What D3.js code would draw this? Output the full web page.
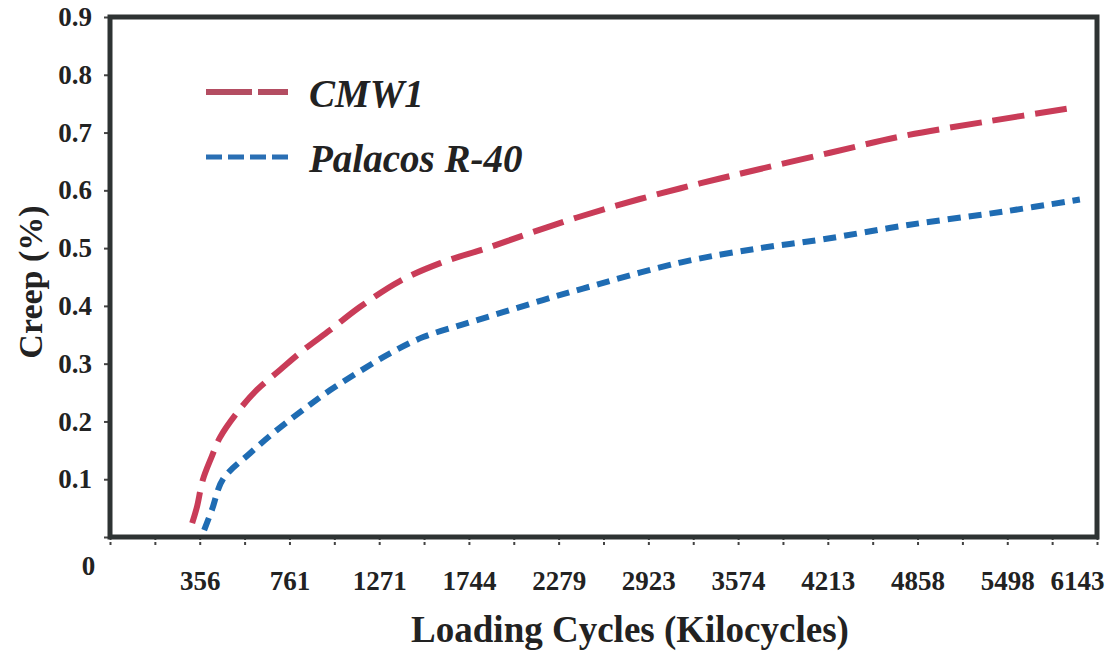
<!DOCTYPE html>
<html>
<head>
<meta charset="utf-8">
<script src="https://cdn.jsdelivr.net/npm/d3@7"></script>
<style>
  body { margin: 0; background: #fff; }
  text { font-family: "Liberation Serif", "Times New Roman", serif; font-weight: bold; fill: #222; }
</style>
</head>
<body>
<svg id="chart" width="1111" height="651"></svg>
<script>
// x axis tick labels (kilocycles), shown evenly spaced like the original
var xTicks = [0, 356, 761, 1271, 1744, 2279, 2923, 3574, 4213, 4858, 5498, 6143]
var yTicks = [0, 0.1, 0.2, 0.3, 0.4, 0.5, 0.6, 0.7, 0.8, 0.9]

// CMW1 creep (%) vs loading cycles (kilocycles)
var cmwCycles = [326, 345, 370, 411, 447, 524, 615, 718, 838, 991, 1161, 1380, 1593, 1851, 2108, 2411, 2862, 3297, 3731, 4229, 4732, 5376, 5950]
var cmwCreep  = [0.024, 0.052, 0.099, 0.14, 0.172, 0.215, 0.255, 0.289, 0.323, 0.358, 0.398, 0.443, 0.474, 0.50, 0.526, 0.553, 0.585, 0.612, 0.637, 0.665, 0.693, 0.72, 0.742]

// Palacos R-40 creep (%)
var palCycles = [376, 411, 461, 583, 704, 838, 991, 1146, 1328, 1503, 1713, 1947, 2185, 2453, 3154, 3731, 4171, 4790, 5466, 6020]
var palCreep  = [0.012, 0.047, 0.1, 0.145, 0.185, 0.22, 0.254, 0.284, 0.318, 0.346, 0.368, 0.389, 0.41, 0.43, 0.475, 0.50, 0.515, 0.54, 0.563, 0.584]

var seriesNames = ["CMW1", "Palacos R-40"]

var svg = d3.select("#chart"),
    plotLeft = 110, plotRight = 1097, plotTop = 17, plotBottom = 537

// labels are evenly spaced, so piecewise linear scale over the tick values
var step = (plotRight - plotLeft) / (xTicks.length - 1)
var x = d3.scaleLinear()
    .domain(xTicks)
    .range(xTicks.map(function(d, i) { return plotLeft + i * step }))
var y = d3.scaleLinear().domain([0, 0.9]).range([plotBottom, plotTop])

// minor ticks half way between the labelled ones
var minor = d3.pairs(xTicks, function(a, b) { return (a + b) / 2 })

var xAxis = svg.append("g")
    .attr("transform", "translate(0," + plotBottom + ")")
    .call(d3.axisBottom(x)
      .tickValues(xTicks.concat(minor))
      .tickSize(8)
      .tickPadding(26)
      .tickFormat(function(d) { return xTicks.indexOf(d) >= 0 ? d : "" }))
xAxis.select(".domain").remove()
xAxis.selectAll("line").attr("stroke", "#444").attr("stroke-width", 2).attr("stroke-dasharray", "3,2")
xAxis.selectAll("text").attr("font-size", "27px").attr("fill", "#222")
xAxis.selectAll("text").filter(function(d) { return d === 0 })
    .attr("dx", -22).attr("dy", "0.14em")
xAxis.selectAll("text").filter(function(d) { return d === 6143 })
    .attr("dx", -20)

var yAxis = svg.append("g")
    .attr("transform", "translate(" + plotLeft + ",0)")
    .call(d3.axisLeft(y)
      .tickValues(yTicks)
      .tickSize(6)
      .tickPadding(12)
      .tickFormat(function(d) { return d === 0 ? "" : d3.format(".1f")(d) }))
yAxis.select(".domain").remove()
yAxis.selectAll("line").attr("stroke", "#444").attr("stroke-width", 2)
yAxis.selectAll("text").attr("font-size", "27px").attr("fill", "#222")

// plot frame
svg.append("rect")
   .attr("x", plotLeft).attr("y", plotTop)
   .attr("width", plotRight - plotLeft).attr("height", plotBottom - plotTop)
   .attr("fill", "none")
   .attr("stroke", "#2e3333")
   .attr("stroke-width", 5)

var line = d3.line()
    .x(function(d) { return x(d[0]) })
    .y(function(d) { return y(d[1]) })
    .curve(d3.curveCatmullRom.alpha(0.5))

svg.append("path")
   .datum(d3.zip(cmwCycles, cmwCreep))
   .attr("d", line)
   .attr("fill", "none")
   .attr("stroke", "#c93c58")
   .attr("stroke-width", 6)
   .attr("stroke-dasharray", "32,11")

svg.append("path")
   .datum(d3.zip(palCycles, palCreep))
   .attr("d", line)
   .attr("fill", "none")
   .attr("stroke", "#1f6cb3")
   .attr("stroke-width", 6)
   .attr("stroke-dasharray", "13,8")

// legend
var legend = svg.append("g")
legend.append("line")
   .attr("x1", 206).attr("x2", 288).attr("y1", 92).attr("y2", 92)
   .attr("stroke", "#b44d62").attr("stroke-width", 6)
   .attr("stroke-dasharray", "46,6")
legend.append("line")
   .attr("x1", 206).attr("x2", 288).attr("y1", 157).attr("y2", 157)
   .attr("stroke", "#2a6fb4").attr("stroke-width", 5)
   .attr("stroke-dasharray", "16,6")
legend.selectAll("text.lg")
   .data(seriesNames)
   .enter()
   .append("text")
   .attr("class", "lg")
   .attr("x", 309)
   .attr("y", function(d, i) { return 107 + i * 65 })
   .attr("font-size", "39px")
   .attr("font-style", "italic")
   .attr("fill", "#333")
   .text(function(d) { return d })

// axis titles
svg.append("text")
   .attr("x", 630).attr("y", 642)
   .attr("text-anchor", "middle")
   .attr("font-size", "37px")
   .text("Loading Cycles (Kilocycles)")

svg.append("text")
   .attr("transform", "translate(42,282) rotate(-90)")
   .attr("text-anchor", "middle")
   .attr("font-size", "34px")
   .text("Creep (%)")
</script>
</body>
</html>
